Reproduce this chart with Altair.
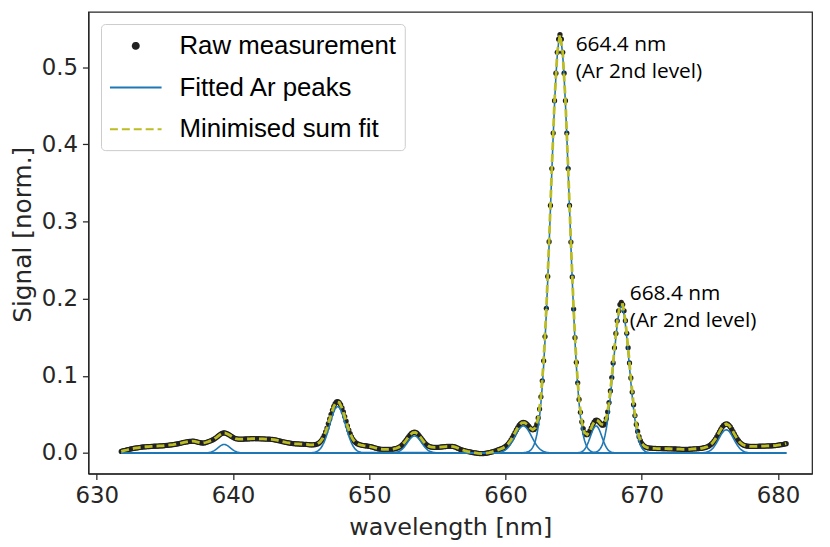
import altair as alt
import pandas as pd

# ---------------- data ----------------
series_names = ["Raw measurement", "Fitted Ar peaks", "Minimised sum fit"]
series_colors = ["#222222", "#1f77b4", "#bcbd22"]

# raw measurement: rows of 10 samples, 0.1 nm apart, first row starts at 631.8 nm
raw_start = 631.8
raw_step = 0.1
raw_rows = [
    [0.0020, 0.0025, 0.0030, 0.0034, 0.0038, 0.0043, 0.0047, 0.0052, 0.0055, 0.0058],
    [0.0061, 0.0064, 0.0067, 0.0070, 0.0072, 0.0075, 0.0077, 0.0079, 0.0080, 0.0081],
    [0.0082, 0.0083, 0.0085, 0.0086, 0.0087, 0.0088, 0.0088, 0.0089, 0.0090, 0.0091],
    [0.0092, 0.0093, 0.0095, 0.0097, 0.0099, 0.0101, 0.0103, 0.0105, 0.0107, 0.0110],
    [0.0113, 0.0116, 0.0120, 0.0124, 0.0128, 0.0132, 0.0136, 0.0140, 0.0143, 0.0146],
    [0.0149, 0.0151, 0.0152, 0.0152, 0.0150, 0.0146, 0.0141, 0.0136, 0.0132, 0.0129],
    [0.0128, 0.0129, 0.0135, 0.0141, 0.0147, 0.0153, 0.0160, 0.0168, 0.0178, 0.0190],
    [0.0202, 0.0217, 0.0231, 0.0244, 0.0254, 0.0259, 0.0259, 0.0254, 0.0246, 0.0236],
    [0.0225, 0.0213, 0.0203, 0.0193, 0.0186, 0.0182, 0.0179, 0.0178, 0.0178, 0.0178],
    [0.0180, 0.0181, 0.0182, 0.0182, 0.0183, 0.0184, 0.0185, 0.0185, 0.0185, 0.0185],
    [0.0184, 0.0184, 0.0183, 0.0183, 0.0182, 0.0181, 0.0180, 0.0180, 0.0179, 0.0178],
    [0.0177, 0.0175, 0.0172, 0.0169, 0.0165, 0.0161, 0.0157, 0.0153, 0.0148, 0.0144],
    [0.0140, 0.0136, 0.0132, 0.0129, 0.0126, 0.0123, 0.0121, 0.0119, 0.0118, 0.0117],
    [0.0116, 0.0115, 0.0114, 0.0113, 0.0112, 0.0111, 0.0110, 0.0108, 0.0106, 0.0104],
    [0.0105, 0.0105, 0.0107, 0.0111, 0.0117, 0.0127, 0.0143, 0.0164, 0.0192, 0.0228],
    [0.0272, 0.0323, 0.0380, 0.0440, 0.0500, 0.0556, 0.0604, 0.0640, 0.0661, 0.0666],
    [0.0653, 0.0625, 0.0583, 0.0531, 0.0471, 0.0411, 0.0352, 0.0297, 0.0249, 0.0208],
    [0.0176, 0.0152, 0.0134, 0.0122, 0.0113, 0.0107, 0.0102, 0.0098, 0.0095, 0.0093],
    [0.0091, 0.0089, 0.0086, 0.0082, 0.0077, 0.0072, 0.0067, 0.0062, 0.0057, 0.0052],
    [0.0049, 0.0047, 0.0046, 0.0045, 0.0045, 0.0045, 0.0045, 0.0045, 0.0046, 0.0047],
    [0.0052, 0.0055, 0.0060, 0.0066, 0.0075, 0.0086, 0.0101, 0.0118, 0.0139, 0.0163],
    [0.0187, 0.0212, 0.0234, 0.0252, 0.0264, 0.0269, 0.0265, 0.0255, 0.0238, 0.0216],
    [0.0193, 0.0168, 0.0145, 0.0124, 0.0108, 0.0094, 0.0084, 0.0078, 0.0074, 0.0072],
    [0.0071, 0.0071, 0.0072, 0.0073, 0.0075, 0.0077, 0.0079, 0.0081, 0.0083, 0.0084],
    [0.0085, 0.0086, 0.0086, 0.0085, 0.0082, 0.0077, 0.0070, 0.0062, 0.0054, 0.0046],
    [0.0040, 0.0034, 0.0029, 0.0024, 0.0020, 0.0016, 0.0013, 0.0009, 0.0005, 0.0002],
    [0.0000, -0.0003, -0.0006, -0.0008, -0.0009, -0.0009, -0.0008, -0.0006, -0.0003, 0.0000],
    [0.0004, 0.0008, 0.0013, 0.0018, 0.0023, 0.0028, 0.0036, 0.0042, 0.0048, 0.0055],
    [0.0062, 0.0071, 0.0084, 0.0099, 0.0118, 0.0140, 0.0167, 0.0197, 0.0230, 0.0264],
    [0.0298, 0.0329, 0.0356, 0.0377, 0.0391, 0.0397, 0.0393, 0.0382, 0.0366, 0.0346],
    [0.0326, 0.0308, 0.0299, 0.0304, 0.0327, 0.0373, 0.0453, 0.0568, 0.0727, 0.0934],
    [0.1194, 0.1508, 0.1874, 0.2287, 0.2737, 0.3207, 0.3685, 0.4146, 0.4565, 0.4921],
    [0.5192, 0.5362, 0.5420, 0.5362, 0.5192, 0.4921, 0.4565, 0.4146, 0.3685, 0.3207],
    [0.2733, 0.2281, 0.1865, 0.1494, 0.1174, 0.0908, 0.0693, 0.0526, 0.0403, 0.0316],
    [0.0263, 0.0238, 0.0237, 0.0255, 0.0286, 0.0326, 0.0367, 0.0399, 0.0421, 0.0425],
    [0.0415, 0.0395, 0.0374, 0.0360, 0.0363, 0.0389, 0.0445, 0.0533, 0.0653, 0.0803],
    [0.0977, 0.1167, 0.1362, 0.1548, 0.1712, 0.1840, 0.1922, 0.1950, 0.1923, 0.1841],
    [0.1714, 0.1550, 0.1363, 0.1166, 0.0971, 0.0788, 0.0625, 0.0485, 0.0370, 0.0279],
    [0.0211, 0.0160, 0.0125, 0.0100, 0.0085, 0.0074, 0.0069, 0.0065, 0.0063, 0.0061],
    [0.0060, 0.0059, 0.0058, 0.0057, 0.0057, 0.0056, 0.0056, 0.0055, 0.0055, 0.0055],
    [0.0055, 0.0054, 0.0054, 0.0053, 0.0053, 0.0052, 0.0052, 0.0051, 0.0050, 0.0049],
    [0.0048, 0.0047, 0.0046, 0.0046, 0.0046, 0.0046, 0.0047, 0.0048, 0.0049, 0.0050],
    [0.0052, 0.0053, 0.0054, 0.0055, 0.0056, 0.0058, 0.0060, 0.0065, 0.0068, 0.0073],
    [0.0080, 0.0088, 0.0099, 0.0113, 0.0130, 0.0152, 0.0178, 0.0207, 0.0240, 0.0273],
    [0.0305, 0.0335, 0.0357, 0.0371, 0.0376, 0.0372, 0.0358, 0.0336, 0.0308, 0.0276],
    [0.0243, 0.0212, 0.0183, 0.0159, 0.0137, 0.0121, 0.0109, 0.0099, 0.0094, 0.0089],
    [0.0087, 0.0086, 0.0084, 0.0084, 0.0085, 0.0085, 0.0086, 0.0086, 0.0087, 0.0087],
    [0.0088, 0.0088, 0.0089, 0.0089, 0.0090, 0.0090, 0.0091, 0.0092, 0.0093, 0.0094],
    [0.0096, 0.0098, 0.0100, 0.0103, 0.0106, 0.0109, 0.0112, 0.0116, 0.0120],
]

# minimised sum fit: rows of 5 samples, 0.2 nm apart, first row starts at 631.8 nm
fit_start = 631.8
fit_step = 0.2
fit_rows = [
    [0.0020, 0.0030, 0.0038, 0.0047, 0.0055],
    [0.0061, 0.0067, 0.0072, 0.0077, 0.0080],
    [0.0082, 0.0085, 0.0087, 0.0088, 0.0090],
    [0.0092, 0.0095, 0.0099, 0.0103, 0.0107],
    [0.0113, 0.0120, 0.0128, 0.0136, 0.0143],
    [0.0149, 0.0152, 0.0150, 0.0141, 0.0132],
    [0.0128, 0.0135, 0.0147, 0.0160, 0.0178],
    [0.0202, 0.0231, 0.0254, 0.0259, 0.0246],
    [0.0225, 0.0203, 0.0186, 0.0179, 0.0178],
    [0.0180, 0.0182, 0.0183, 0.0185, 0.0185],
    [0.0184, 0.0183, 0.0182, 0.0180, 0.0179],
    [0.0177, 0.0172, 0.0165, 0.0157, 0.0148],
    [0.0140, 0.0132, 0.0126, 0.0121, 0.0118],
    [0.0116, 0.0114, 0.0112, 0.0110, 0.0106],
    [0.0105, 0.0107, 0.0117, 0.0143, 0.0192],
    [0.0272, 0.0380, 0.0500, 0.0604, 0.0661],
    [0.0653, 0.0583, 0.0471, 0.0352, 0.0249],
    [0.0176, 0.0134, 0.0113, 0.0102, 0.0095],
    [0.0091, 0.0086, 0.0077, 0.0067, 0.0057],
    [0.0049, 0.0046, 0.0045, 0.0045, 0.0046],
    [0.0052, 0.0060, 0.0075, 0.0101, 0.0139],
    [0.0187, 0.0234, 0.0264, 0.0265, 0.0238],
    [0.0193, 0.0145, 0.0108, 0.0084, 0.0074],
    [0.0071, 0.0072, 0.0075, 0.0079, 0.0083],
    [0.0085, 0.0086, 0.0082, 0.0070, 0.0054],
    [0.0040, 0.0029, 0.0020, 0.0013, 0.0005],
    [0.0000, -0.0006, -0.0009, -0.0008, -0.0003],
    [0.0004, 0.0013, 0.0023, 0.0036, 0.0048],
    [0.0062, 0.0084, 0.0118, 0.0167, 0.0230],
    [0.0298, 0.0356, 0.0391, 0.0393, 0.0366],
    [0.0326, 0.0299, 0.0327, 0.0453, 0.0727],
    [0.1194, 0.1874, 0.2737, 0.3685, 0.4565],
    [0.5192, 0.5420, 0.5192, 0.4565, 0.3685],
    [0.2733, 0.1865, 0.1174, 0.0693, 0.0403],
    [0.0263, 0.0237, 0.0286, 0.0367, 0.0421],
    [0.0415, 0.0374, 0.0363, 0.0445, 0.0653],
    [0.0977, 0.1362, 0.1712, 0.1922, 0.1923],
    [0.1714, 0.1363, 0.0971, 0.0625, 0.0370],
    [0.0211, 0.0125, 0.0085, 0.0069, 0.0063],
    [0.0060, 0.0058, 0.0057, 0.0056, 0.0055],
    [0.0055, 0.0054, 0.0053, 0.0052, 0.0050],
    [0.0048, 0.0046, 0.0046, 0.0047, 0.0049],
    [0.0052, 0.0054, 0.0056, 0.0060, 0.0068],
    [0.0080, 0.0099, 0.0130, 0.0178, 0.0240],
    [0.0305, 0.0357, 0.0376, 0.0358, 0.0308],
    [0.0243, 0.0183, 0.0137, 0.0109, 0.0094],
    [0.0087, 0.0084, 0.0085, 0.0086, 0.0087],
    [0.0088, 0.0089, 0.0090, 0.0091, 0.0093],
    [0.0096, 0.0100, 0.0106, 0.0112, 0.0120],
]

# fitted Ar peaks: each sampled every 0.1 nm from its start wavelength;
# every fitted curve is zero over the rest of the fitted range
fit_range = [631.8, 680.6]
peak_step = 0.1
peak_639_start = 638.1
peak_639 = [0.0002, 0.0004, 0.0007, 0.0012, 0.0018, 0.0027, 0.0039, 0.0052, 0.0067, 0.0081,
            0.0094, 0.0104, 0.0109, 0.0109, 0.0104, 0.0094, 0.0081, 0.0067, 0.0052, 0.0039,
            0.0027, 0.0018, 0.0012, 0.0007, 0.0004, 0.0002]
peak_648_start = 645.8
peak_648 = [0.0003, 0.0005, 0.0009, 0.0015, 0.0023, 0.0035, 0.0053, 0.0076, 0.0106, 0.0144,
            0.0190, 0.0243, 0.0302, 0.0364, 0.0426, 0.0484, 0.0534, 0.0572, 0.0594, 0.0600,
            0.0587, 0.0558, 0.0515, 0.0462, 0.0401, 0.0339, 0.0278, 0.0221, 0.0171, 0.0128,
            0.0093, 0.0066, 0.0045, 0.0030, 0.0019, 0.0012, 0.0007, 0.0004]
peak_653_start = 651.8
peak_653 = [0.0003, 0.0005, 0.0009, 0.0014, 0.0022, 0.0032, 0.0046, 0.0063, 0.0084, 0.0108,
            0.0133, 0.0159, 0.0182, 0.0201, 0.0214, 0.0220, 0.0217, 0.0207, 0.0190, 0.0168,
            0.0144, 0.0118, 0.0094, 0.0071, 0.0053, 0.0037, 0.0025, 0.0017, 0.0011, 0.0007,
            0.0004, 0.0002]
peak_661_start = 659.4
peak_661 = [0.0003, 0.0005, 0.0008, 0.0013, 0.0019, 0.0027, 0.0039, 0.0054, 0.0073, 0.0095,
            0.0122, 0.0152, 0.0185, 0.0219, 0.0253, 0.0284, 0.0311, 0.0332, 0.0345, 0.0350,
            0.0345, 0.0332, 0.0311, 0.0284, 0.0253, 0.0219, 0.0185, 0.0152, 0.0122, 0.0095,
            0.0073, 0.0054, 0.0039, 0.0027, 0.0019, 0.0013, 0.0008, 0.0005, 0.0003]
peak_664_start = 661.2
peak_664 = [0.0001, 0.0002, 0.0004, 0.0006, 0.0011, 0.0018, 0.0029, 0.0046, 0.0071, 0.0109,
            0.0162, 0.0236, 0.0338, 0.0472, 0.0646, 0.0865, 0.1134, 0.1454, 0.1825, 0.2241,
            0.2693, 0.3167, 0.3645, 0.4106, 0.4525, 0.4881, 0.5152, 0.5322, 0.5380, 0.5322,
            0.5152, 0.4881, 0.4525, 0.4106, 0.3645, 0.3167, 0.2693, 0.2241, 0.1825, 0.1454,
            0.1134, 0.0865, 0.0646, 0.0472, 0.0338, 0.0236, 0.0162, 0.0109, 0.0071, 0.0046,
            0.0029, 0.0018, 0.0011, 0.0006, 0.0004, 0.0002, 0.0001]
peak_667_start = 665.3
peak_667 = [0.0002, 0.0004, 0.0008, 0.0015, 0.0027, 0.0045, 0.0071, 0.0106, 0.0149, 0.0197,
            0.0247, 0.0293, 0.0328, 0.0348, 0.0348, 0.0328, 0.0293, 0.0247, 0.0197, 0.0149,
            0.0106, 0.0071, 0.0045, 0.0027, 0.0015, 0.0008, 0.0004, 0.0002]
peak_668_start = 666.3
peak_668 = [0.0001, 0.0003, 0.0005, 0.0009, 0.0015, 0.0026, 0.0042, 0.0067, 0.0103, 0.0154,
            0.0223, 0.0314, 0.0430, 0.0570, 0.0734, 0.0917, 0.1113, 0.1310, 0.1498, 0.1662,
            0.1790, 0.1872, 0.1900, 0.1872, 0.1790, 0.1662, 0.1498, 0.1310, 0.1113, 0.0917,
            0.0734, 0.0570, 0.0430, 0.0314, 0.0223, 0.0154, 0.0103, 0.0067, 0.0042, 0.0026,
            0.0015, 0.0009, 0.0005, 0.0003, 0.0001]
peak_676_start = 674.5
peak_676 = [0.0003, 0.0004, 0.0007, 0.0012, 0.0018, 0.0028, 0.0041, 0.0057, 0.0079, 0.0104,
            0.0133, 0.0165, 0.0198, 0.0230, 0.0259, 0.0281, 0.0295, 0.0300, 0.0295, 0.0281,
            0.0259, 0.0230, 0.0198, 0.0165, 0.0133, 0.0104, 0.0079, 0.0057, 0.0041, 0.0028,
            0.0018, 0.0012, 0.0007, 0.0004, 0.0003]

peaks = [
    ("639", peak_639_start, peak_639),
    ("648", peak_648_start, peak_648),
    ("653", peak_653_start, peak_653),
    ("661", peak_661_start, peak_661),
    ("664", peak_664_start, peak_664),
    ("667", peak_667_start, peak_667),
    ("668", peak_668_start, peak_668),
    ("676", peak_676_start, peak_676),
]

# annotations
ann_x = [665.15, 665.15, 669.12, 669.12]
ann_y = [0.5206, 0.4862, 0.1987, 0.1635]
ann_text = ["664.4 nm", "(Ar 2nd level)", "668.4 nm", "(Ar 2nd level)"]

x_domain = [629.39, 682.5]
y_domain = [-0.0267, 0.5715]
x_ticks = [630, 640, 650, 660, 670, 680]
y_ticks = [0.0, 0.1, 0.2, 0.3, 0.4, 0.5]

# ---------------- tables ----------------
raw_signal = [v for row in raw_rows for v in row]
raw_df = pd.DataFrame({
    "wavelength": [round(raw_start + raw_step * i, 2) for i in range(len(raw_signal))],
    "signal": raw_signal,
    "series": series_names[0],
})

fit_signal = [v for row in fit_rows for v in row]
fit_df = pd.DataFrame({
    "wavelength": [round(fit_start + fit_step * i, 2) for i in range(len(fit_signal))],
    "signal": fit_signal,
    "series": series_names[2],
})

peak_records = []
for name, start, vals in peaks:
    peak_records.append({"wavelength": fit_range[0], "signal": 0.0, "peak": name})
    for i, v in enumerate(vals):
        peak_records.append({"wavelength": round(start + peak_step * i, 2), "signal": v, "peak": name})
    peak_records.append({"wavelength": fit_range[1], "signal": 0.0, "peak": name})
peaks_df = pd.DataFrame(peak_records)
peaks_df["series"] = series_names[1]

ann_df = pd.DataFrame({"wavelength": ann_x, "signal": ann_y, "label": ann_text})

# ---------------- chart ----------------
FONT = "DejaVu Sans"
INK = "#262626"
SYM = 676  # legend symbol area -> 26 px rows; symbol paths span 2 units = 26 px
# legend glyphs (unit = 13 px): a dot in the middle of a 52 px stroke slot
LEG_DOT = "M 0.77 0 A 0.23 0.23 0 1 0 1.23 0 A 0.23 0.23 0 1 0 0.77 0 Z"
LEG_LINE = "M -1 0 L 3 0"

x_scale = alt.Scale(domain=x_domain, nice=False, zero=False)
y_scale = alt.Scale(domain=y_domain, nice=False, zero=False)

x_enc = alt.X("wavelength:Q", scale=x_scale,
              axis=alt.Axis(title="wavelength [nm]", values=x_ticks, format="d"))
y_enc = alt.Y("signal:Q", scale=y_scale,
              axis=alt.Axis(title="Signal [norm.]", values=y_ticks, format=".1f",
                            titleY=224))

legend = alt.Legend(
    title=None,
    orient="none",
    legendX=12.7,
    legendY=12.2,
    padding=8,
    fillColor="white",
    strokeColor="#cccccc",
    cornerRadius=4,
    labelFont="Liberation Sans",
    labelFontSize=26,
    labelColor="black",
    labelLimit=400,
    labelOffset=43,
    rowPadding=15,
    symbolSize=SYM,
    symbolStrokeWidth=2,
    symbolOpacity=1,
)

color_enc = alt.Color("series:N",
                      scale=alt.Scale(domain=series_names, range=series_colors),
                      legend=legend)
shape_enc = alt.Shape("series:N",
                      scale=alt.Scale(domain=series_names, range=[LEG_DOT, LEG_LINE, LEG_LINE]),
                      legend=legend)
dash_enc = alt.StrokeDash("series:N",
                          scale=alt.Scale(domain=series_names, range=[[1, 0], [1, 0], [8, 4]]),
                          legend=legend)

raw_layer = alt.Chart(raw_df).mark_circle(size=28, opacity=1).encode(
    x=x_enc, y=y_enc, color=color_enc)

peaks_layer = alt.Chart(peaks_df).mark_line(strokeWidth=1.6).encode(
    x=x_enc, y=y_enc, color=color_enc, strokeDash=dash_enc, detail="peak:N")

fit_layer = alt.Chart(fit_df).mark_line(strokeWidth=2.8).encode(
    x=x_enc, y=y_enc, color=color_enc, strokeDash=dash_enc)

# carries only the legend glyph shapes; draws nothing visible
legend_glyph_layer = alt.Chart(fit_df).mark_point(filled=True, size=SYM, opacity=0).encode(
    x=x_enc, y=y_enc, color=color_enc, shape=shape_enc)

ann_layer = alt.Chart(ann_df).mark_text(
    align="left", baseline="alphabetic", font="Open Sans", fontSize=21, color="black"
).encode(x=x_enc, y=y_enc, text="label:N")

chart = alt.layer(legend_glyph_layer, raw_layer, peaks_layer, fit_layer, ann_layer).properties(
    width=729,
    height=465,
    autosize=alt.AutoSizeParams(type="none"),
    padding={"left": 81, "top": 2, "right": 10, "bottom": 65},
).configure_view(
    stroke=INK, strokeWidth=1.25
).configure_axis(
    grid=False,
    domainColor=INK,
    domainWidth=1.25,
    tickColor=INK,
    tickWidth=1.25,
    tickSize=6,
    labelFont=FONT,
    labelFontSize=23,
    labelColor=INK,
    labelPadding=5,
    titleFont=FONT,
    titleFontWeight="normal",
    titleColor=INK,
).configure_axisX(
    titleFontSize=24,
    titlePadding=8,
).configure_axisY(
    titleFontSize=25,
    titlePadding=6,
)

chart.save("out.html", embed_options={"renderer": "svg", "actions": False})
